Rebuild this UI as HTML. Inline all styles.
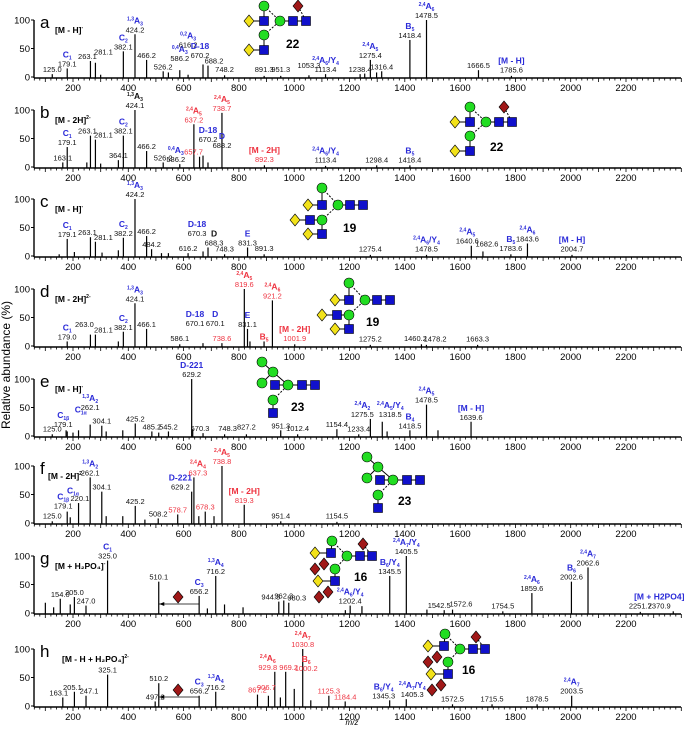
<!DOCTYPE html>
<html><head><meta charset="utf-8">
<style>
html,body{margin:0;padding:0;background:#fff;}
svg{display:block;font-family:"Liberation Sans",Arial,sans-serif;}
</style></head>
<body>
<svg id="fig" width="684" height="729" viewBox="0 0 684 729" xmlns="http://www.w3.org/2000/svg">
<text x="10" y="365" font-size="12" text-anchor="middle" transform="rotate(-90 10 365)">Relative abundance (%)</text>
<text x="352" y="725" font-size="8" font-style="italic" text-anchor="middle">m/z</text>
</svg>
<script>
// ---- data ----
const panelLetters = ["a","b","c","d","e","f","g","h"];
const panelIons = ["[M - H]|-","[M - 2H]|2-","[M - H]|-","[M - 2H]|2-","[M - H]|-","[M - 2H]|2-","[M + H2PO4]|-","[M - H + H2PO4]|2-"];
const peaksA = [[125,5],[179.1,15],[263.1,28],[281.1,25],[300,4],[382.1,45],[424.2,75],[466.2,30],[526.2,10],[545,8],[586.2,12],[616.2,4],[670.2,22],[688.2,20],[748.2,3],[891.3,2],[951.3,2],[1053.3,3],[1113.4,5],[1238.4,5],[1255,6],[1275.4,30],[1298,8],[1316.4,10],[1418.4,65],[1478.5,100],[1666.5,12],[1785.6,2]];
const peaksB = [[163.1,8],[179.1,35],[250,8],[263.1,55],[281.1,48],[300,6],[364.1,12],[382.1,55],[424.1,100],[466.2,28],[526.2,8],[586.2,5],[637.2,75],[657.7,18],[670.2,20],[688.2,8],[738.7,95],[892.3,3],[1113.4,2],[1298.4,3],[1418.4,3]];
const peaksC = [[150,3],[179.1,30],[205,7],[263.1,33],[281.1,25],[305,6],[364,10],[382.2,32],[424.2,100],[466.2,35],[484.2,12],[520,5],[545,5],[616.2,5],[670.3,8],[688.3,15],[748.3,3],[831.3,15],[891.3,3],[1275.4,2],[1478.5,2],[1640.6,18],[1682.6,8],[1783.6,3],[1843.6,22],[2004.7,2]];
const peaksD = [[179,8],[263,20],[281.1,20],[364,8],[382.1,25],[424.1,75],[466.1,30],[586.1,3],[670.1,5],[738.6,5],[819.6,100],[831.1,30],[840,8],[891,8],[921.2,80],[1001.9,3],[1275.2,2],[1460.2,3],[1478.2,2],[1663.3,2]];
const peaksE = [[125,3],[175,10],[179.1,8],[200,6],[220,10],[262.1,20],[304.1,18],[320,8],[380,10],[425.2,22],[485.2,8],[510,6],[545.2,8],[629.2,100],[633,12],[670.3,5],[748.3,3],[827.2,3],[951.3,10],[1012.4,3],[1154.4,12],[1233.4,3],[1275.5,30],[1318.5,25],[1336,8],[1418.5,10],[1478.5,55],[1520,10],[1639.6,25]];
const peaksF = [[125,3],[179.1,20],[190,10],[220.1,35],[262.1,80],[304.1,55],[320,12],[380,12],[425.2,30],[460,6],[508.2,8],[578.7,15],[629.2,55],[637.3,80],[655,12],[678.3,20],[710,12],[738.8,100],[819.3,32],[951.4,3],[1154.5,2]];
const peaksG = [[100,18],[130,10],[154,25],[190,15],[205,28],[247,13],[325,92],[510.1,55],[656.2,30],[686,8],[716.2,65],[748,15],[815,10],[944.3,20],[962.3,22],[980.3,18],[1185,5],[1202.4,13],[1245,12],[1345.5,65],[1405.5,100],[1480,6],[1542.5,5],[1572.6,6],[1754.5,3],[1859.6,35],[2002.6,55],[2062.6,80],[2251.7,2],[2370.9,3]];
const peaksH = [[163.1,15],[205.1,25],[247.1,18],[325.1,55],[497.2,8],[510.2,40],[656.2,18],[716.2,25],[867.2,20],[906.7,18],[929.8,60],[950,15],[969.2,60],[1000.2,30],[1030.8,100],[1060,10],[1125.3,18],[1184.4,8],[1345.3,10],[1405.3,12],[1572.5,3],[1715.5,3],[1878.5,3],[2003.5,18]];
const allPeaks = [peaksA,peaksB,peaksC,peaksD,peaksE,peaksF,peaksG,peaksH];
// labels: [mz, value text, ion ("pre|base|sub"), colour key b=blue r=red k=black, label height %]
const labelsA = [[125,"125.0","","k",5],[179.1,"179.1","|C|1","b",15],[263.1,"263.1","","k",28],[281.1,"281.1","","k",36],[382.1,"382.1","|C|2","b",45],[424.2,"424.2","1,3|A|3","b",75],[466.2,"466.2","","k",30],[526.2,"526.2","","k",10],[586.2,"586.2","0,4|A|3","b",25],[616.2,"616.2","0,2|A|3","b",48],[670.2,"670.2","|D-18|","b",30],[688.2,"688.2","","k",20],[748.2,"748.2","","k",5],[891.3,"891.3","","k",5],[951.3,"951.3","","k",5],[1053.3,"1053.3","","k",12],[1113.4,"1113.4","2,4|A|6/Y4","b",5],[1238.4,"1238.4","","k",5],[1275.4,"1275.4","2,4|A|5","b",30],[1316.4,"1316.4","","k",10],[1418.4,"1418.4","|B|5","b",65],[1478.5,"1478.5","2,4|A|6","b",100],[1666.5,"1666.5","","k",12],[1785.6,"1785.6","|[M - H]|","b",3]];
const labelsB = [[163.1,"163.1","","k",8],[179.1,"179.1","|C|1","b",35],[263.1,"263.1","","k",55],[281.1,"281.1","","k",48],[364.1,"364.1","","k",12],[382.1,"382.1","|C|2","b",55],[424.1,"424.1","1,3|A|3","k",100],[466.2,"466.2","","k",28],[526.2,"526.2","","k",8],[586.2,"586.2","0,4|A|3","b",5],[637.2,"637.2","2,4|A|5","r",75],[657.7,"657.7","","r",18],[670.2,"670.2","|D-18|","b",40],[688.2,"688.2","|D|","b",30],[738.7,"738.7","2,4|A|5","r",95],[892.3,"892.3","|[M - 2H]|","r",5],[1113.4,"1113.4","2,4|A|6/Y4","b",3],[1298.4,"1298.4","","k",3],[1418.4,"1418.4","|B|5","b",3]];
const labelsC = [[179.1,"179.1","|C|1","b",30],[263.1,"263.1","","k",33],[281.1,"281.1","","k",25],[382.2,"382.2","|C|2","b",32],[424.2,"424.2","1,3|A|3","b",100],[466.2,"466.2","","k",35],[484.2,"484.2","","k",12],[616.2,"616.2","","k",5],[670.3,"670.3","|D-18|","b",32],[688.3,"688.3","|D|","k",15],[748.3,"748.3","","k",3],[831.3,"831.3","|E|","b",15],[891.3,"891.3","","k",5],[1275.4,"1275.4","","k",2],[1478.5,"1478.5","2,4|A|6/Y4","b",2],[1640.6,"1640.6","2,4|A|5","b",18],[1682.6,"1682.6","","k",13],[1783.6,"1783.6","|B|5","b",5],[1843.6,"1843.6","2,4|A|6","b",22],[2004.7,"2004.7","|[M - H]|","b",2]];
const labelsD = [[179,"179.0","|C|1","b",8],[263,"263.0","","k",30],[281.1,"281.1","","k",20],[382.1,"382.1","|C|2","b",25],[424.1,"424.1","1,3|A|3","b",75],[466.1,"466.1","","k",30],[586.1,"586.1","","k",5],[670.1,"670.1","|D-18|","b",32],[700,"670.1","|D|","b",32],[738.6,"738.6","","r",5],[819.6,"819.6","2,4|A|5","r",100],[831.1,"831.1","|E|","b",30],[891,"","|B|5","r",8],[921.2,"921.2","2,4|A|6","r",80],[1001.9,"1001.9","|[M - 2H]|","r",5],[1275.2,"1275.2","","k",2],[1460.2,"1460.2","","k",5],[1495,"1478.2","","k",2],[1663.3,"1663.3","","k",2]];
const labelsE = [[125,"125.0","","k",3],[179.1,"179.1","|C|1β","b",12],[228,"","|C|1α","b",38],[262.1,"262.1","1,3|A|2","b",42],[304.1,"304.1","","k",18],[425.2,"425.2","","k",22],[485.2,"485.2","","k",8],[545.2,"545.2","","k",8],[629.2,"629.2","|D-221|","b",100],[670.3,"670.3","","k",5],[748.3,"748.3","","k",5],[827.2,"827.2","","k",8],[951.3,"951.3","","k",10],[1012.4,"1012.4","","k",5],[1154.4,"1154.4","","k",12],[1233.4,"1233.4","","k",3],[1275.5,"1275.5","2,4|A|2","b",30],[1318.5,"1318.5","2,4|A|5/Y4","b",30],[1418.5,"1418.5","|B|4","b",10],[1478.5,"1478.5","2,4|A|5","b",55],[1639.6,"1639.6","|[M - H]|","b",25]];
const labelsF = [[125,"125.0","","k",3],[179.1,"179.1","|C|1β","b",22],[200,"","|C|1α","b",48],[225,"220.1","","k",35],[262.1,"262.1","1,3|A|2","b",80],[304.1,"304.1","","k",55],[425.2,"425.2","","k",30],[508.2,"508.2","","k",8],[578.7,"578.7","","r",15],[610,"629.2","|D-221|","b",55],[637.3,"637.3","2,4|A|4","r",80],[678.3,"678.3","","r",20],[738.8,"738.8","2,4|A|5","r",100],[819.3,"819.3","|[M - 2H]|","r",32],[951.4,"951.4","","k",3],[1154.5,"1154.5","","k",2]];
const labelsG = [[154,"154.0","","k",25],[205,"205.0","","k",28],[247,"247.0","","k",13],[325,"325.0","|C|1","b",92],[510.1,"510.1","","k",55],[656.2,"656.2","|C|3","b",30],[716.2,"716.2","1,3|A|4","b",65],[944.3,"944.3","","k",20],[962.3,"962.3","","k",22],[980.3,"980.3","","k",18],[1202.4,"1202.4","2,4|A|6/Y4","b",13],[1345.5,"1345.5","|B|6/Y4","b",65],[1405.5,"1405.5","2,4|A|7/Y4","b",100],[1542.5,"1542.5","","k",5],[1585,"1572.6","","k",8],[1754.5,"1754.5","","k",3],[1859.6,"1859.6","2,4|A|6","b",35],[2002.6,"2002.6","|B|6","b",55],[2062.6,"2062.6","2,4|A|7","b",80],[2251.7,"2251.7","","k",2],[2370.9,"2370.9","|[M + H2PO4]|","b",2]];
const labelsH = [[163.1,"163.1","","k",15],[205.1,"205.1","","k",25],[247.1,"247.1","","k",18],[325.1,"325.1","","k",55],[497.2,"497.2","","k",8],[510.2,"510.2","","k",40],[656.2,"656.2","|C|3","b",18],[716.2,"716.2","1,3|A|4","b",25],[867.2,"867.2","","r",20],[906.7,"906.7","","r",25],[929.8,"929.8","2,4|A|6","r",60],[969.2,"969.2","","r",60],[1000.2,"1000.2","|B|6","r",58],[1030.8,"1030.8","2,4|A|7","r",100],[1125.3,"1125.3","","r",18],[1184.4,"1184.4","","r",8],[1345.3,"1345.3","|B|6/Y4","b",10],[1405.3,"1405.3","2,4|A|7/Y4","b",12],[1572.5,"1572.5","","k",3],[1715.5,"1715.5","","k",3],[1878.5,"1878.5","","k",3],[2003.5,"2003.5","2,4|A|7","b",18]];
const allLabels = [labelsA,labelsB,labelsC,labelsD,labelsE,labelsF,labelsG,labelsH];
const tickLabels = [200,400,600,800,1000,1200,1400,1600,1800,2000,2200];
const yTicks = [0,50,100];

// ---- layout (label nudges, px) ----
const labelNudge = {
  "0:281.1":8,"0:263.1":-3,"0:670.2":-3,"0:688.2":6,
  "1:263.1":-3,"1:281.1":8,"1:657.7":-6,"1:670.2":5,"1:688.2":14,"1:586.2":-4,
  "2:263.1":-3,"2:281.1":8,"2:670.3":-6,"2:688.3":6,"2:1682.6":4,"2:1640.6":-4,
  "3:263":-6,"3:281.1":8,"3:670.1":-8,"3:700":4,"3:1460.2":-6,"3:1495":4,
  "4:179.1":-4,"4:1275.5":-8,"4:1318.5":8,"4:670.3":-3,"4:748.3":3,
  "5:179.1":-4,"5:610":-6,"5:637.3":4,
  "6:944.3":-8,"6:962.3":0,"6:980.3":8,"6:2370.9":-14,"6:1542.5":-5,"6:1585":5,
  "7:163.1":-4,"7:205.1":-2,"7:247.1":3,"7:929.8":-7,"7:969.2":3,"7:1000.2":12,"7:906.7":-2,"7:1345.3":-6,"7:1405.3":6
};
const NS="http://www.w3.org/2000/svg";
const svg=document.getElementById('fig');
const baselines=[77,167,256,346,436,523,613,706];
const H=57, AX0=34, AX1=681;
const xm = mz => 73 + (mz-200)*0.2765;
const COL={b:"#2a2ad8",r:"#ee3340",k:"#111"};
function el(tag,attrs,parent){const e=document.createElementNS(NS,tag);for(const k in attrs)e.setAttribute(k,attrs[k]);(parent||svg).appendChild(e);return e;}

function ionText(g,x,y,ion,col){
  const parts=ion.split("|");
  const t=el("text",{x:x,y:y,"font-size":"8.5","font-weight":"bold",fill:col,"text-anchor":"middle"},g);
  if(parts[0]){const s=el("tspan",{"font-size":"5",dy:"-3"},t);s.textContent=parts[0];}
  const b=el("tspan",{dy:parts[0]?"3":"0"},t);b.textContent=parts[1];
  if(parts[2]){
    const sp=parts[2].split("/");
    const s=el("tspan",{"font-size":"5",dy:"2"},t);s.textContent=sp[0];
    if(sp[1]){const s2=el("tspan",{dy:"-2"},t);s2.textContent="/"+sp[1][0];
      const s3=el("tspan",{"font-size":"5",dy:"2"},t);s3.textContent=sp[1].slice(1);}
  }
  return t;
}

for(let p=0;p<8;p++){
  const y0=baselines[p];
  const g=el("g",{});
  
  
  const xa=el("line",{x1:AX0,x2:AX1,y1:y0+1,y2:y0+1,stroke:"#000","stroke-width":"1.6"},g);
  
  
  const ya=el("line",{x1:AX0,x2:AX0,y1:y0+1,y2:y0-H,stroke:"#000","stroke-width":"1.4"},g);
  
  
  let d="";
  for(let m=60;m<=2400;m+=20){const x=xm(m);d+=`M${x.toFixed(1)} ${y0+1}v${m%100===0?4:2.5}`;}
  el("path",{d:d,stroke:"#000","stroke-width":"0.8",fill:"none"},g);
  tickLabels.forEach(v=>{const t=el("text",{x:xm(v),y:y0+14,"font-size":"9.5","text-anchor":"middle"},g);t.textContent=v;
    
    });
  yTicks.forEach(v=>{const yy=y0-v/100*H;el("line",{x1:AX0-3,x2:AX0,y1:yy,y2:yy,stroke:"#000"},g);
    const t=el("text",{x:AX0-4,y:yy+3.5,"font-size":"9.5","text-anchor":"end"},g);t.textContent=v;
    
    });
  const L=el("text",{x:40,y:y0-H+8,"font-size":"17"},g);L.textContent=panelLetters[p];
  
  
  const ip=panelIons[p].split("|");
  const it=el("text",{x:p===5?48:(p===7?62:55),y:y0-H+13,"font-size":"8.5","font-weight":"bold"},g);
  it.textContent=ip[0].replace("H2PO4","H\u2082PO\u2084");
  const sup=el("tspan",{"font-size":"5",dy:"-4"},it);sup.textContent=ip[1];
  
  
  allPeaks[p].forEach(pk=>{const x=xm(pk[0]);
    const l=el("line",{x1:x,x2:x,y1:y0+1,y2:y0-pk[1]/100*H,stroke:"#000","stroke-width":"1.2"},g);
    
    });
  allLabels[p].forEach(lb=>{const x=xm(lb[0])+(labelNudge[p+":"+lb[0]]||0);const col=COL[lb[3]];
    const ly=y0-Math.max(lb[4],4)/100*H-2;
    if(lb[1]){const t=el("text",{x:x,y:ly,"font-size":"7.5","text-anchor":"middle",fill:lb[3]==="b"?"#111":col},g);t.textContent=lb[1];
      
      }
    if(lb[2]){const t=ionText(g,x,lb[1]?ly-9:ly,lb[2],col);
      
      }
  });
}

function glycan(ox,oy,nodes,edges,num,nx,ny){
  const g=el("g",{});
  
  
  edges.forEach(e=>{const a=nodes[e[0]],b=nodes[e[1]];
    el("line",{x1:ox+a[1],y1:oy+a[2],x2:ox+b[1],y2:oy+b[2],stroke:"#000","stroke-width":"1","stroke-dasharray":e[2]?"2,1.5":"none"},g);});
  nodes.forEach(n=>{const x=ox+n[1],y=oy+n[2];
    if(n[0]==="C")el("circle",{cx:x,cy:y,r:5,fill:"#22dd22",stroke:"#000","stroke-width":"0.6"},g);
    else if(n[0]==="S")el("rect",{x:x-4.5,y:y-4.5,width:9,height:9,fill:"#1010cc",stroke:"#000","stroke-width":"0.6"},g);
    else el("polygon",{points:`${x},${y-6} ${x+5},${y} ${x},${y+6} ${x-5},${y}`,fill:n[0]==="Y"?"#f2e21a":"#a01818",stroke:"#000","stroke-width":"0.6"},g);
  });
  const t=el("text",{x:nx,y:ny,"font-size":"12","font-weight":"bold"},g);t.textContent=num;
}
const n22=[["Y",0,15],["S",15,15],["C",15,0],["C",31,15],["S",44,15],["S",57,15],["R",49,0],["C",15,29],["Y",0,44],["S",15,44]];
const e22=[[0,1],[1,2],[2,3,1],[7,3,1],[3,4],[4,5],[6,5,1],[7,9],[8,9]];
glycan(249,6,n22,e22,"22",286,48);
glycan(455,107,n22,e22,"22",490,151);
const n19=[["C",27,0],["Y",13,17],["S",27,17],["C",43,17],["S",55,17],["S",68,17],["Y",0,32],["S",15,32],["C",27,32],["Y",13,46],["S",27,46]];
const e19=[[1,2],[2,0],[0,3,1],[8,3,1],[3,4],[4,5],[6,7],[7,8],[8,10],[9,10]];
glycan(295,188,n19,e19,"19",343,232);
glycan(322,283,n19,e19,"19",366,326);
const n23=[["C",0,0],["C",11,10],["C",0,21],["S",13,23],["C",26,23],["S",40,23],["S",53,23],["C",11,38],["S",11,51]];
const e23=[[0,1],[2,1],[1,4],[3,4],[4,5],[5,6],[7,4,1],[7,8]];
glycan(262,362,n23,e23,"23",291,411);
glycan(367,457,n23,e23,"23",398,505);
const n16=[["C",17,0],["Y",0,12],["S",16,12],["C",32,15],["S",45,15],["S",57,15],["R",48,3],["R",9,23],["R",0,28],["C",20,28],["Y",3,40],["S",20,40],["R",13,51],["R",4,56]];
const e16=[[1,2],[2,0],[0,3,1],[9,3,1],[3,4],[4,5],[6,5,1],[9,11],[10,11]];
glycan(315,541,n16,e16,"16",354,581);
glycan(428,634,n16,e16,"16",462,674);

[[613,604,597],[706,697,690]].forEach(v=>{
  const g=el("g",{});
  
  
  el("line",{x1:xm(510),x2:xm(656),y1:v[1],y2:v[1],stroke:"#000","stroke-width":"0.8"},g);
  el("polygon",{points:`${xm(512)},${v[1]} ${xm(512)+5},${v[1]-2} ${xm(512)+5},${v[1]+2}`,fill:"#000"},g);
  const x=xm(580),y=v[2];
  el("polygon",{points:`${x},${y-6} ${x+5},${y} ${x},${y+6} ${x-5},${y}`,fill:"#a01818",stroke:"#000","stroke-width":"0.6"},g);
});
</script>
</body></html>
